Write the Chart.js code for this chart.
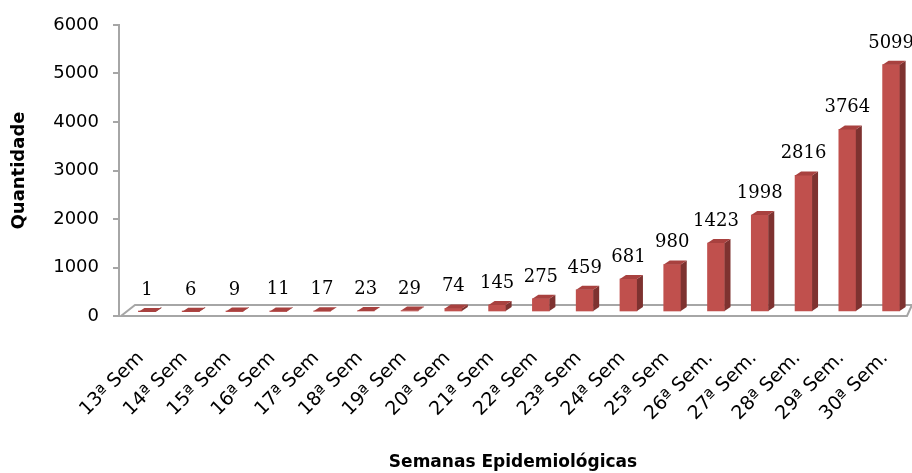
<!DOCTYPE html>
<html>
<head>
<meta charset="utf-8">
<script src="https://cdn.jsdelivr.net/npm/chart.js@4.4.1/dist/chart.umd.min.js"></script>
<style>
html,body{margin:0;padding:0;background:#fff;}
#wrap{width:912px;height:473px;position:relative;}
</style>
</head>
<body>
<div id="wrap"><canvas id="c" width="912" height="473"></canvas></div>
<script>
const categories = ['13ª Sem','14ª Sem','15ª Sem','16ª Sem','17ª Sem','18ª Sem','19ª Sem','20ª Sem','21ª Sem','22ª Sem','23ª Sem','24ª Sem','25ª Sem','26ª Sem.','27ª Sem.','28ª Sem.','29ª Sem.','30ª Sem.'];
const cases = [1,6,9,11,17,23,29,74,145,275,459,681,980,1423,1998,2816,3764,5099];
const yTickValues = [0,1000,2000,3000,4000,5000,6000];
const yTitle = 'Quantidade';
const xTitle = 'Semanas Epidemiológicas';

const SHIFT_X = 6, SHIFT_Y = -4;   // bars sit mid-depth on the 3D floor
const DEPTH_X = 6, DEPTH_Y = -4;   // side/top face depth
const FRONT = '#c0504d', SIDE = '#7e3230', TOP = '#a8413f';

const threeD = {
  id: 'threeD',
  beforeDatasetsDraw(chart) {
    const {ctx, chartArea: a} = chart;
    ctx.save();
    ctx.beginPath();
    ctx.moveTo(a.left + 2, a.bottom);
    ctx.lineTo(a.right, a.bottom);
    ctx.lineTo(a.right + 5, a.bottom - 11);
    ctx.lineTo(a.left + 16, a.bottom - 11);
    ctx.closePath();
    ctx.fillStyle = '#ffffff';
    ctx.fill();
    ctx.strokeStyle = '#a6a6a6';
    ctx.lineWidth = 2;
    ctx.stroke();
    ctx.restore();
    ctx.save();
    ctx.translate(SHIFT_X, SHIFT_Y);
  },
  afterDatasetsDraw(chart) {
    const {ctx} = chart;
    const meta = chart.getDatasetMeta(0);
    meta.data.forEach(bar => {
      const p = bar.getProps(['x','y','base','width'], true);
      const x0 = p.x - p.width/2, x1 = p.x + p.width/2;
      const top = p.y, bot = p.base;
      ctx.beginPath();
      ctx.moveTo(x1, top); ctx.lineTo(x1 + DEPTH_X, top + DEPTH_Y);
      ctx.lineTo(x1 + DEPTH_X, bot + DEPTH_Y); ctx.lineTo(x1, bot); ctx.closePath();
      ctx.fillStyle = SIDE; ctx.fill();
      ctx.beginPath();
      ctx.moveTo(x0, top); ctx.lineTo(x0 + DEPTH_X, top + DEPTH_Y);
      ctx.lineTo(x1 + DEPTH_X, top + DEPTH_Y); ctx.lineTo(x1, top); ctx.closePath();
      ctx.fillStyle = TOP; ctx.fill();
    });
    ctx.restore();
    ctx.save();
    ctx.font = '18px "DejaVu Serif", serif';
    ctx.fillStyle = '#000';
    ctx.textAlign = 'center';
    ctx.textBaseline = 'alphabetic';
    meta.data.forEach((bar, i) => {
      const p = bar.getProps(['x','y'], true);
      ctx.fillText(String(cases[i]), p.x + SHIFT_X, p.y + SHIFT_Y + DEPTH_Y - 13);
    });
    ctx.restore();
  }
};

new Chart(document.getElementById('c'), {
  type: 'bar',
  data: {
    labels: categories,
    datasets: [{
      data: cases,
      backgroundColor: FRONT,
      borderWidth: 0,
      barThickness: 17
    }]
  },
  options: {
    responsive: false,
    animation: false,
    layout: { padding: { top: 25, right: 5, left: 0, bottom: 0 } },
    plugins: { legend: { display: false }, tooltip: { enabled: false } },
    scales: {
      x: {
        grid: { display: false, drawTicks: false },
        border: { display: false },
        ticks: {
          autoSkip: false, minRotation: 45, maxRotation: 45,
          padding: 31, color: '#000',
          font: { family: 'DejaVu Sans', size: 19 }
        },
        title: {
          display: true, text: xTitle, color: '#000',
          font: { family: 'DejaVu Sans', size: 17, weight: 'bold' },
          padding: { top: 0, bottom: 0 }
        },
        afterFit(scale) { scale.height = 157; scale.paddingRight = 0; scale.paddingLeft = 0; }
      },
      y: {
        min: 0, max: 6000,
        afterBuildTicks(scale) { scale.ticks = yTickValues.map(v => ({ value: v })); },
        grid: { drawOnChartArea: false, tickLength: 6, color: '#a6a6a6', lineWidth: 2 },
        border: { display: true, color: '#a6a6a6', width: 2 },
        ticks: {
          padding: 14, color: '#000', font: { family: 'DejaVu Sans', size: 18 },
          callback: v => String(v)
        },
        title: {
          display: true, text: yTitle, color: '#000',
          font: { family: 'DejaVu Sans', size: 18, weight: 'bold' },
          padding: { top: 9, bottom: 0 }
        },
        afterFit(scale) { scale.width = 119; }
      }
    }
  },
  plugins: [threeD]
});
</script>
</body>
</html>
